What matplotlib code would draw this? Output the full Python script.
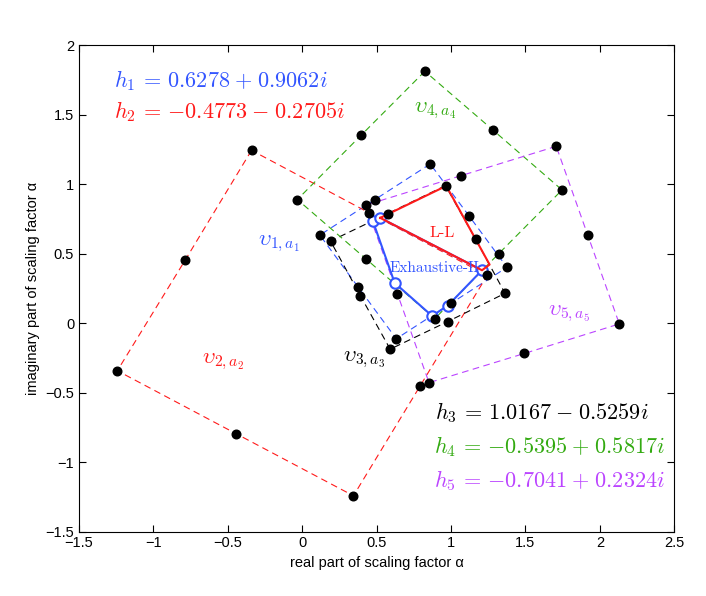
import matplotlib
matplotlib.use('Agg')
import matplotlib.pyplot as plt
import numpy as np

plt.rcParams['mathtext.fontset'] = 'cm'
plt.rcParams['font.family'] = ['Liberation Sans', 'DejaVu Sans']

# colours of the five channels
c_blue = '#3355ff'
c_red = '#ff1a1a'
c_black = '#000000'
c_green = '#33aa11'
c_purple = '#bb44ff'

# constellation points v_{k,a_k}, listed around each square (corner, mid, corner, ...)
v1_re = [0.860, 0.489, 0.118, 0.375, 0.632, 1.001, 1.376, 1.119]
v1_im = [1.146, 0.890, 0.634, 0.261, -0.112, 0.144, 0.402, 0.775]
v2_re = [-0.341, -0.788, -1.243, -0.447, 0.344, 0.793, 1.243, 0.450]
v2_im = [1.244, 0.452, -0.342, -0.794, -1.242, -0.450, 0.344, 0.794]
v3_re = [0.963, 0.575, 0.190, 0.390, 0.591, 0.978, 1.363, 1.166]
v3_im = [0.990, 0.789, 0.591, 0.199, -0.187, 0.012, 0.215, 0.603]
v4_re = [0.824, 0.395, -0.033, 0.429, 0.891, 1.320, 1.746, 1.284]
v4_im = [1.813, 1.352, 0.890, 0.462, 0.033, 0.500, 0.959, 1.388]
v5_re = [1.707, 1.068, 0.428, 0.639, 0.852, 1.492, 2.131, 1.918]
v5_im = [1.273, 1.062, 0.850, 0.213, -0.428, -0.218, -0.005, 0.636]

# search paths
ll_re = [0.524, 0.968, 1.259, 1.208, 0.524]
ll_im = [0.758, 0.988, 0.422, 0.381, 0.758]
ex_re = [0.475, 0.621, 0.872, 0.977, 1.208, 0.524, 0.475]
ex_im = [0.734, 0.290, 0.053, 0.125, 0.381, 0.758, 0.734]

squares = [
    (v1_re, v1_im, c_blue),
    (v2_re, v2_im, c_red),
    (v3_re, v3_im, c_black),
    (v4_re, v4_im, c_green),
    (v5_re, v5_im, c_purple),
]

fig = plt.figure(figsize=(7.06, 5.96), dpi=100)
ax = fig.add_axes([0.112, 0.108, 0.843, 0.816])

for re, im, col in squares:
    ax.plot(re + re[:1], im + im[:1], color=col, lw=0.8, dashes=(6, 4))

ax.plot(ex_re, ex_im, '-', color=c_blue, lw=1.5)
ax.plot(ex_re[:-1], ex_im[:-1], 'o', color=c_blue, mfc='white', ms=7.5, mew=1.5)
ax.plot(ll_re, ll_im, '-', color=c_red, lw=1.5)

for re, im, col in squares:
    ax.plot(re, im, 'o', color='black', ms=6.2, ls='none')

# text annotations
tsize = 16
ax.text(-1.265, 1.745, r'$h_1\,=\,0.6278\;{+}\;0.9062i$', color=c_blue, fontsize=tsize, va='center')
ax.text(-1.265, 1.52, r'$h_2\,=\,{-}0.4773\;{-}\;0.2705i$', color=c_red, fontsize=tsize, va='center')
ax.text(0.892, -0.645, r'$h_3\,=\,1.0167\;{-}\;0.5259i$', color=c_black, fontsize=tsize, va='center')
ax.text(0.885, -0.89, r'$h_4\,=\,{-}0.5395\;{+}\;0.5817i$', color=c_green, fontsize=tsize, va='center')
ax.text(0.885, -1.135, r'$h_5\,=\,{-}0.7041\;{+}\;0.2324i$', color=c_purple, fontsize=tsize, va='center')

vsize = 16
ax.text(-0.30, 0.574, r'$\upsilon_{1,a_1}$', color=c_blue, fontsize=vsize, va='center')
ax.text(-0.673, -0.275, r'$\upsilon_{2,a_2}$', color=c_red, fontsize=vsize, va='center')
ax.text(0.277, -0.263, r'$\upsilon_{3,a_3}$', color=c_black, fontsize=vsize, va='center')
ax.text(0.752, 1.531, r'$\upsilon_{4,a_4}$', color=c_green, fontsize=vsize, va='center')
ax.text(1.651, 0.067, r'$\upsilon_{5,a_5}$', color=c_purple, fontsize=vsize, va='center')

ax.text(0.854, 0.645, 'L-L', color=c_red, fontsize=11.5, family='cmr10', va='center')
ax.text(0.587, 0.393, 'Exhaustive-II', color=c_blue, fontsize=11, family='cmr10', va='center')

ax.set_xlim(-1.5, 2.5)
ax.set_ylim(-1.5, 2)
ax.set_xticks(np.arange(-1.5, 2.51, 0.5))
ax.set_yticks(np.arange(-1.5, 2.01, 0.5))
ax.set_xticklabels(['\u22121.5', '\u22121', '\u22120.5', '0', '0.5', '1', '1.5', '2', '2.5'])
ax.set_yticklabels(['\u22121.5', '\u22121', '\u22120.5', '0', '0.5', '1', '1.5', '2'])
ax.tick_params(direction='in', top=True, right=True, length=5, width=0.8, labelsize=10.5)
for s in ax.spines.values():
    s.set_linewidth(0.8)
ax.set_xlabel('real part of scaling factor \u03b1', fontsize=10.5)
ax.set_ylabel('imaginary part of scaling factor \u03b1', fontsize=10.5)

fig.savefig('out.png', dpi=100)
